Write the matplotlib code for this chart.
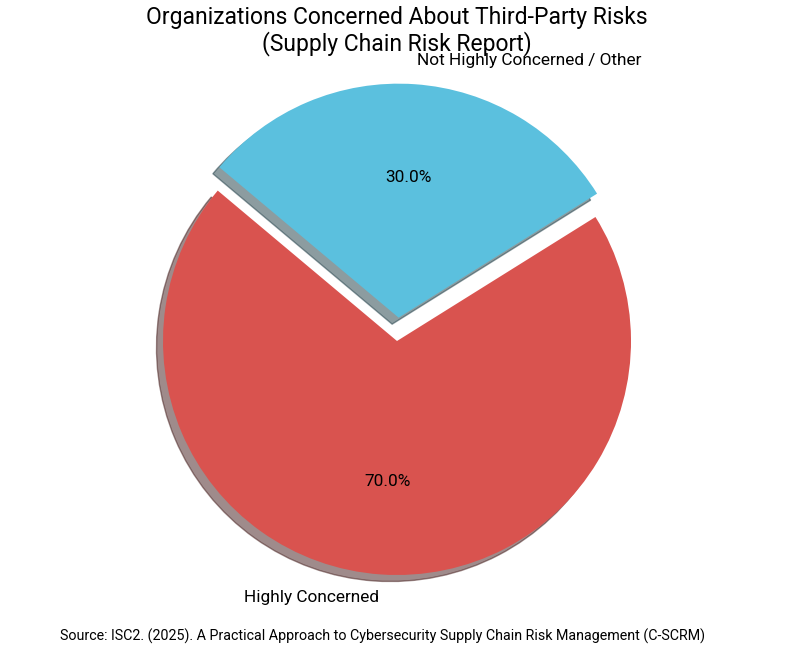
import matplotlib
matplotlib.use("Agg")
import matplotlib.pyplot as plt

plt.rcParams['font.family'] = ['Roboto', 'DejaVu Sans']

labels = ['Highly Concerned', 'Not Highly Concerned / Other']
sizes = [70, 30]
colors = ['#d9534f', '#5bc0de']
explode = (0, 0.1)

fig = plt.figure(figsize=(7.94, 6.54), dpi=100)
W, H = 794, 654
# pie radius ~234 px, centre ~(397, 341)
r = 234
side = 2.5 * r
ax = fig.add_axes([(397 - side / 2) / W, (H - 341 - side / 2) / H, side / W, side / H])

ax.pie(sizes, labels=labels, colors=colors, explode=explode, autopct='%1.1f%%',
       shadow=True, startangle=140, textprops={'fontsize': 12.4})
ax.set_aspect('equal')

fig.text(0.5, 1 - 56 / H, 'Organizations Concerned About Third-Party Risks\n(Supply Chain Risk Report)',
         ha='center', va='bottom', fontsize=16.5, linespacing=1.1)
fig.text(382 / W, 1 - 636 / H,
         'Source: ISC2. (2025). A Practical Approach to Cybersecurity Supply Chain Risk Management (C-SCRM)',
         ha='center', va='center', fontsize=10.3)

fig.savefig('out.png', dpi=100)
